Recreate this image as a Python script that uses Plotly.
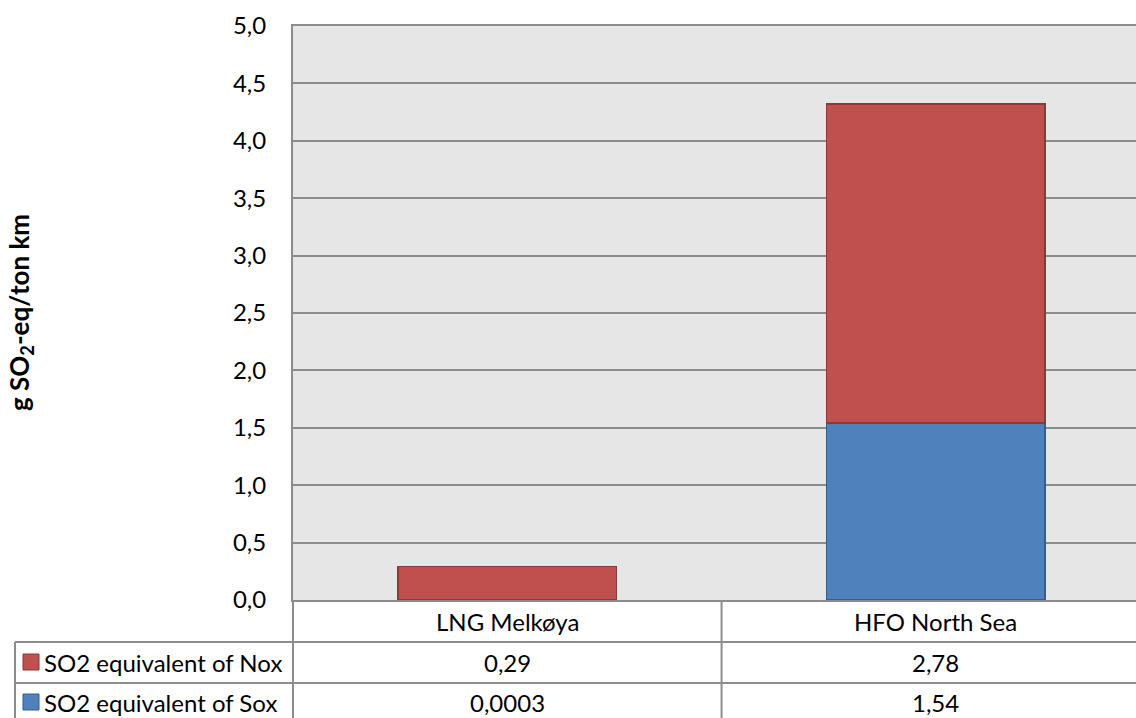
import plotly.graph_objects as go

# Chart data
categories = ["LNG Melkøya", "HFO North Sea"]
series_names = ["SO2 equivalent of Nox", "SO2 equivalent of Sox"]
nox_values = [0.29, 2.78]
sox_values = [0.0003, 1.54]
y_ticks = [0, 0.5, 1.0, 1.5, 2.0, 2.5, 3.0, 3.5, 4.0, 4.5, 5.0]

W, H = 1136, 718
ML, MR, MT, MB = 293, 0, 26, 118
PW, PH = W - ML - MR, H - MT - MB

RED, RED_EDGE = "#c0504d", "#8c3836"
BLUE, BLUE_EDGE = "#4f81bd", "#385d8a"
GRID = "#8c8c8c"
FONT = "Lato, 'Open Sans', sans-serif"
FS = 24


def px_x(px):
    return (px - ML) / PW


def px_y(py):
    return (H - MB - py) / PH


def fmt(v):
    return f"{v:g}".replace(".", ",")


fig = go.Figure()
fig.add_bar(x=categories, y=sox_values, name=series_names[1], width=0.51,
            marker=dict(color=BLUE, line=dict(color=BLUE_EDGE, width=1.5)))
fig.add_bar(x=categories, y=nox_values, name=series_names[0], width=0.51,
            marker=dict(color=RED, line=dict(color=RED_EDGE, width=1.5)))

shapes = []
line = dict(color=GRID, width=2)
# data table grid
for py in (642, 683):
    shapes.append(dict(type="line", xref="paper", yref="paper",
                       x0=px_x(15), x1=px_x(W + 5), y0=px_y(py), y1=px_y(py), line=line))
shapes.append(dict(type="line", xref="paper", yref="paper",
                   x0=px_x(15), x1=px_x(15), y0=px_y(642), y1=px_y(H + 5), line=line))
shapes.append(dict(type="line", xref="paper", yref="paper",
                   x0=0, x1=0, y0=0, y1=px_y(H + 5), line=line))
shapes.append(dict(type="line", xref="x", yref="paper",
                   x0=0.5, x1=0.5, y0=0, y1=px_y(H + 5), line=line))
# legend keys
key_colors = [(RED, RED_EDGE), (BLUE, BLUE_EDGE)]
for (fill, edge), cy in zip(key_colors, (662, 702)):
    shapes.append(dict(type="rect", xref="paper", yref="paper",
                       x0=px_x(23), x1=px_x(39), y0=px_y(cy - 8), y1=px_y(cy + 8),
                       fillcolor=fill, line=dict(color=edge, width=1)))

annotations = []
text_font = dict(family=FONT, size=FS, color="#000000")
row_y = [621, 662, 702]


def cell(x, y, text, xref="x", xanchor="center"):
    return dict(x=x, y=px_y(y), xref=xref, yref="paper", text=text,
                xanchor=xanchor, yanchor="middle", showarrow=False, font=text_font)


for i, cat in enumerate(categories):
    annotations.append(cell(cat, row_y[0], cat))
    annotations.append(cell(cat, row_y[1], fmt(nox_values[i])))
    annotations.append(cell(cat, row_y[2], fmt(sox_values[i])))
for name, cy in zip(series_names, row_y[1:]):
    annotations.append(cell(px_x(42), cy, name, xref="paper", xanchor="left"))
annotations.append(dict(x=px_x(20), y=px_y(313), xref="paper", yref="paper",
                        xanchor="center", yanchor="middle",
                        text="<b>g SO<sub>2</sub>-eq/ton km</b>", textangle=-90,
                        showarrow=False, font=dict(family=FONT, size=26, color="#000000")))

fig.update_layout(
    width=W, height=H,
    margin=dict(l=ML, r=MR, t=MT, b=MB, autoexpand=False),
    barmode="stack", bargap=0.49,
    plot_bgcolor="#e6e6e6", paper_bgcolor="#ffffff",
    showlegend=False, separators=", ",
    shapes=shapes, annotations=annotations,
    font=dict(family=FONT, size=FS, color="#000000"),
    xaxis=dict(type="category", range=[-0.5, 1.467], showticklabels=False,
               showline=True, linecolor=GRID, linewidth=2, mirror=True,
               showgrid=False, zeroline=False, ticks=""),
    yaxis=dict(range=[0, 5], tickvals=y_ticks, tickformat=".1f",
               showgrid=True, gridcolor=GRID, gridwidth=2,
               showline=True, linecolor=GRID, linewidth=2,
               zeroline=False, ticks="outside", ticklen=20,
               tickcolor="rgba(0,0,0,0)", tickfont=dict(family=FONT, size=FS)),
)

fig.write_html("out.html")
